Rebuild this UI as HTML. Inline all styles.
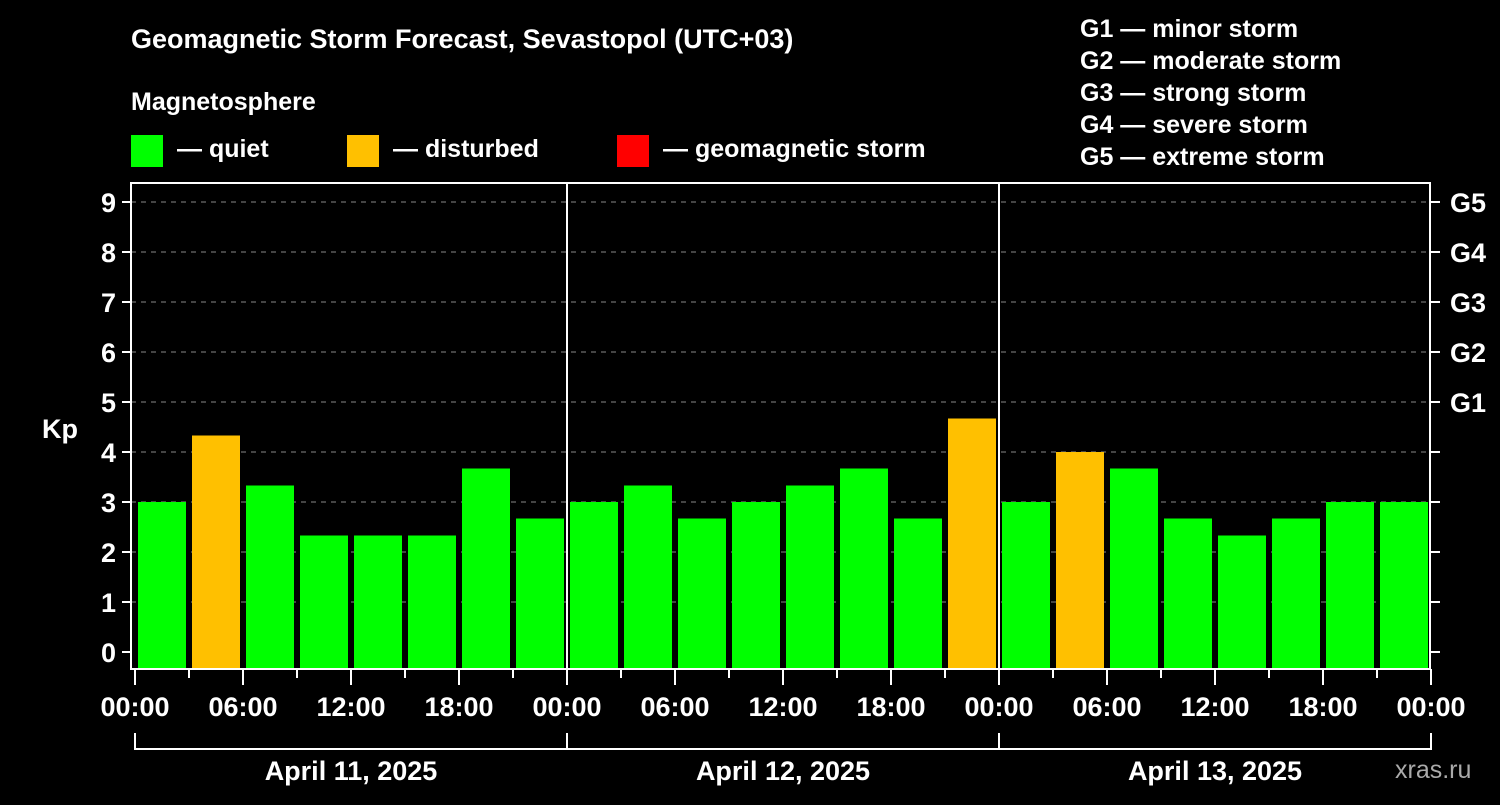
<!DOCTYPE html>
<html><head><meta charset="utf-8"><style>
body{margin:0;background:#000;width:1500px;height:800px;overflow:hidden}
svg text{font-family:"Liberation Sans",sans-serif;font-weight:bold;fill:#fff}
</style></head><body>
<svg id="c" width="1500" height="800" xmlns="http://www.w3.org/2000/svg">
<rect width="1500" height="800" fill="#000"/>
<text x="131" y="48" font-size="27">Geomagnetic Storm Forecast, Sevastopol (UTC+03)</text>
<text x="131" y="110" font-size="25">Magnetosphere</text>
<g><rect x="131" y="135" width="32" height="32" fill="#00ff00"/><text x="177" y="157" font-size="25">— quiet</text></g>
<g><rect x="347" y="135" width="32" height="32" fill="#ffc000"/><text x="393" y="157" font-size="25">— disturbed</text></g>
<g><rect x="617" y="135" width="32" height="32" fill="#ff0000"/><text x="663" y="157" font-size="25">— geomagnetic storm</text></g>
<g font-size="25">
<text x="1080" y="37">G1 — minor storm</text><text x="1080" y="69">G2 — moderate storm</text><text x="1080" y="101">G3 — strong storm</text><text x="1080" y="133">G4 — severe storm</text><text x="1080" y="165">G5 — extreme storm</text>
</g>
<text x="42" y="438" font-size="27">Kp</text>
<text x="1395" y="778" font-size="25" fill="#aaa" style="fill:#aaa;font-weight:normal">xras.ru</text>
<g id="plot"></g>
</svg>
<script>
const days=["April 11, 2025","April 12, 2025","April 13, 2025"];
const kpValues=[3,4.33,3.33,2.33,2.33,2.33,3.67,2.67, 3,3.33,2.67,3,3.33,3.67,2.67,4.67, 3,4,3.67,2.67,2.33,2.67,3,3];
const yTicks=[0,1,2,3,4,5,6,7,8,9];
const gLabels=["G1","G2","G3","G4","G5"];
const xLabels=["00:00","06:00","12:00","18:00"];
const NS="http://www.w3.org/2000/svg",P=document.getElementById('plot');
const L=131,R=1430,T=183,B=669,X0=135,step=54;
const y=v=>652-v*50, x=i=>X0+i*step;
function mk(t,a,txt){const e=document.createElementNS(NS,t);for(const k in a)e.setAttribute(k,a[k]);if(txt!=null)e.textContent=txt;P.appendChild(e);return e;}
yTicks.forEach(v=>{
 if(v>0){const g=mk('line',{x1:L,x2:R,y1:y(v),y2:y(v),stroke:'#888','stroke-dasharray':'5,5','stroke-width':1});
 
 }
 mk('line',{x1:122,x2:L,y1:y(v),y2:y(v),stroke:'#fff','stroke-width':2});
 mk('line',{x1:R,x2:1440,y1:y(v),y2:y(v),stroke:'#fff','stroke-width':2});
 const t=mk('text',{x:116,y:y(v)+10,'font-size':27,'text-anchor':'end'},String(v));
 
 
});
gLabels.forEach((g,i)=>{const t=mk('text',{x:1450,y:y(5+i)+10,'font-size':27},g);
 
 });
kpValues.forEach((v,i)=>{
 const b=mk('rect',{x:x(i)+3,y:y(v),width:48,height:668-y(v),fill:v>=5?'#ff0000':(v>=4?'#ffc000':'#00ff00')});
 
 
});
mk('rect',{x:L,y:T,width:R-L,height:B-T,fill:'none',stroke:'#fff','stroke-width':2});
for(let d=1;d<days.length;d++)mk('line',{x1:x(d*8),x2:x(d*8),y1:T,y2:B,stroke:'#fff','stroke-width':2});
for(let i=0;i<=24;i++){
 const major=i%2==0;
 mk('line',{x1:x(i),x2:x(i),y1:B,y2:major?685:678,stroke:'#fff','stroke-width':2});
 if(major){const t=mk('text',{x:x(i),y:716,'font-size':27,'text-anchor':'middle'},xLabels[(i/2)%4]);
 
 }
}
days.forEach((d,k)=>{
 mk('path',{d:`M${x(k*8)},733V749H${x(k*8+8)}V733`,fill:'none',stroke:'#fff','stroke-width':2});
 const t=mk('text',{x:(x(k*8)+x(k*8+8))/2,y:780,'font-size':27,'text-anchor':'middle'},d);
 
 
});
</script>
</body></html>
